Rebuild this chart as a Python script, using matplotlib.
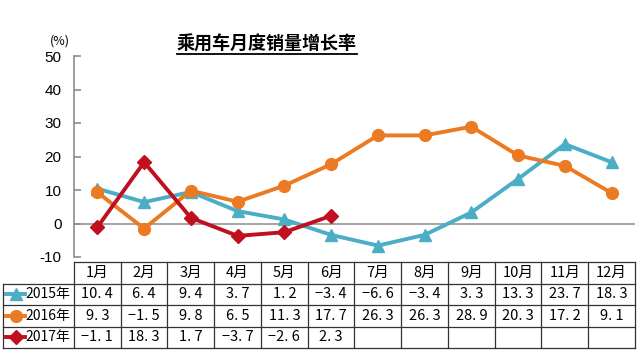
import matplotlib
matplotlib.use("Agg")
import matplotlib.pyplot as plt
import numpy as np
from matplotlib.lines import Line2D

plt.rcParams['font.family'] = ['Noto Sans CJK SC', 'DejaVu Sans']

title = "乘用车月度销量增长率"
months = ["1月", "2月", "3月", "4月", "5月", "6月", "7月", "8月", "9月", "10月", "11月", "12月"]
series_names = ["2015年", "2016年", "2017年"]
v2015 = [10.4, 6.4, 9.4, 3.7, 1.2, -3.4, -6.6, -3.4, 3.3, 13.3, 23.7, 18.3]
v2016 = [9.3, -1.5, 9.8, 6.5, 11.3, 17.7, 26.3, 26.3, 28.9, 20.3, 17.2, 9.1]
v2017 = [-1.1, 18.3, 1.7, -3.7, -2.6, 2.3]
yticks = [-10, 0, 10, 20, 30, 40, 50]

colors = ["#4BADC6", "#EC7A23", "#C0101F"]
markers = ["^", "o", "D"]
msizes = [8, 8.5, 7]
series = [v2015, v2016, v2017]

W, H = 640, 356
fig = plt.figure(figsize=(6.4, 3.56), dpi=100)

def fx(px):
    return px / W

def fy(py):
    return 1 - py / H

# main axes
ax_l, ax_r = 74, 635
ax_t, ax_b = 56, 257
ax = fig.add_axes([fx(ax_l), fy(ax_b), fx(ax_r - ax_l), fy(ax_t) - fy(ax_b)])
ax.set_xlim(-0.5, 11.5)
ax.set_ylim(-10, 50)
ax.set_yticks(yticks)
ax.set_yticklabels([str(t) for t in yticks], family=['Liberation Sans', 'DejaVu Sans'], fontsize=11)
ax.tick_params(axis='y', direction='in', length=5, width=1.2, color='#8c8c8c', pad=9)
ax.set_xticks([])
for s in ['top', 'right', 'bottom']:
    ax.spines[s].set_visible(False)
ax.spines['left'].set_color('#8c8c8c')
ax.spines['left'].set_linewidth(1.2)
ax.axhline(0, color='#8c8c8c', lw=1.1, zorder=1)

for i, (vals, c, m, ms) in enumerate(zip(series, colors, markers, msizes)):
    x = np.arange(len(vals))
    ax.plot(x, vals, color=c, lw=2.8, marker=m, ms=ms, markeredgecolor=c,
            zorder=2 + i, clip_on=False)

# title with underline
t = fig.text(fx(267), fy(44), title, ha='center', va='center', fontsize=13,
             fontweight='bold', family=['Noto Sans CJK SC', 'DejaVu Sans'])
fig.text(fx(60), fy(41), "(%)", ha='center', va='center', fontsize=9)

fig.canvas.draw()
bb = t.get_window_extent()
fig.add_artist(Line2D([bb.x0 / W, bb.x1 / W], [fy(53.5), fy(53.5)],
                      transform=fig.transFigure, color='black', lw=1.3))

# table axes
tb_l, tb_r, tb_t, tb_b = 3, 635, 262, 348
col_w = (ax_r - ax_l) / 12.0
x_left = -0.5 + (tb_l - ax_l) / col_w
tax = fig.add_axes([fx(tb_l), fy(tb_b), fx(tb_r - tb_l), fy(tb_t) - fy(tb_b)])
tax.set_xlim(x_left, 11.5)
tax.set_ylim(4, 0)
tax.axis('off')

lc = '#333333'
lw = 0.9
# horizontal lines
tax.plot([-0.5, 11.5], [0, 0], color=lc, lw=lw, clip_on=False)
for r in [1, 2, 3, 4]:
    tax.plot([x_left, 11.5], [r, r], color=lc, lw=lw, clip_on=False)
# vertical lines
tax.plot([x_left, x_left], [1, 4], color=lc, lw=lw, clip_on=False)
for c in range(13):
    xc = -0.5 + c
    tax.plot([xc, xc], [0, 4], color=lc, lw=lw, clip_on=False)

cjk = ['Noto Sans CJK JP', 'DejaVu Sans']
for i, m in enumerate(months):
    tax.text(i, 0.5, m, ha='center', va='center', fontsize=10.5, family=cjk)

for r, (name, vals, c, mk, ms) in enumerate(zip(series_names, series, colors, markers, msizes)):
    y = r + 1.5
    # legend sample
    xs0 = x_left + (6 - tb_l) / col_w
    xs1 = x_left + (25 - tb_l) / col_w
    tax.plot([xs0, xs1], [y, y], color=c, lw=2.8, clip_on=False)
    tax.plot([(xs0 + xs1) / 2], [y], color=c, marker=mk, ms=ms, clip_on=False)
    tax.text(x_left + (25 - tb_l) / col_w, y, name, ha='left', va='center',
             fontsize=10, family=cjk)
    for i, v in enumerate(vals):
        label = f"{v:.1f}".replace('-', '−').replace('.', '. ')
        tax.text(i, y, label, ha='center', va='center',
                 fontsize=10.5, family=cjk)

fig.savefig("out.png", dpi=100)
